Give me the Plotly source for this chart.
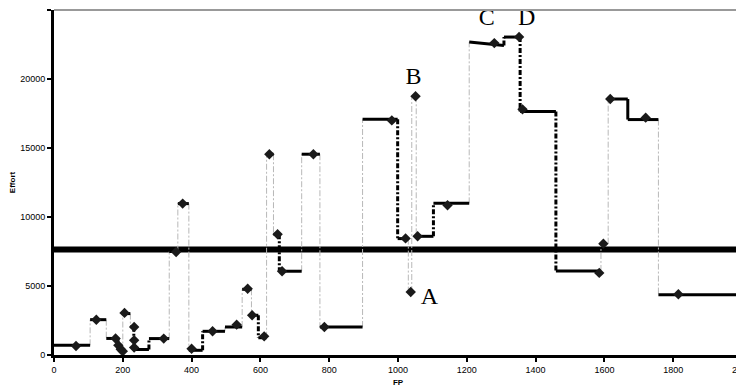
import plotly.graph_objects as go

# ---- data ----
point_fp = [64, 123, 179, 187, 194, 200, 205, 233, 233, 233, 319, 355, 374, 400, 461, 531,
            563, 576, 611, 626, 650, 663, 754, 786, 982, 1022, 1037, 1051, 1057, 1144, 1280,
            1352, 1362, 1585, 1597, 1617, 1720, 1815]
point_effort = [650, 2550, 1200, 700, 420, 270, 3050, 2030, 1065, 536, 1190, 7460, 10970, 450,
                1720, 2200, 4800, 2880, 1350, 14550, 8750, 6070, 14550, 2030, 17000, 8450, 4565,
                18746, 8600, 10850, 22600, 23050, 17800, 5950, 8070, 18550, 17200, 4400]

seg_start = [0, 105, 152, 186, 192, 199, 200, 222, 232, 276, 335, 360, 392, 432, 497, 547, 574,
             594, 618, 638, 655, 720, 773, 897, 999, 1037, 1051, 1057, 1103, 1207, 1308, 1355,
             1459, 1597, 1611, 1668, 1757]
seg_end = [105, 152, 186, 192, 199, 200, 222, 232, 276, 335, 360, 392, 432, 497, 547, 574, 594,
           618, 638, 655, 720, 773, 897, 999, 1025, 1037, 1051, 1103, 1207, 1308, 1355, 1459,
           1590, 1597, 1668, 1757, 2000]
seg_level_start = [700, 2560, 1200, 700, 420, 250, 3000, 2050, 400, 1190, 7500, 10970, 340, 1717,
                   2030, 4760, 2880, 1250, 14550, 8750, 6070, 14550, 2030, 17080, 8435, 4565,
                   18746, 8600, 10990, 22680, 23040, 17650, 6090, 8070, 18550, 17060, 4375]
seg_level_end = [700, 2560, 1200, 700, 420, 250, 3000, 2050, 400, 1190, 7500, 10970, 340, 1717,
                 2030, 4760, 2880, 1250, 14550, 8750, 6070, 14550, 2030, 17080, 8435, 4565,
                 18746, 8600, 10990, 22430, 23040, 17650, 6090, 8070, 18550, 17060, 4375]
# link between segment i and i+1: x position and kind
link_x = [105, 152, 186, 192, 199, 200, 222, 232, 276, 335, 360, 392, 432, 497, 547, 574, 594,
          618, 638, 655, 720, 773, 897, 999, 1030, 1040, 1053, 1103, 1207, 1308, 1355, 1459,
          1590, 1611, 1668, 1757]
link_kind = ["jump", "jump", "step", "step", "step", "jump", "jump", "step", "step", "jump",
             "jump", "jump", "step", "jump", "jump", "jump", "step", "jump", "jump", "step",
             "jump", "jump", "jump", "step", "jump", "jump", "jump", "step", "jump", "step",
             "step", "step", "jump", "jump", "solid", "jump"]

mean_effort = 7650
labels = ["A", "B", "C", "D"]
label_fp = [1091, 1045, 1258, 1374]
label_effort = [4100, 20100, 24350, 24350]

x_ticks = list(range(0, 2001, 200))
y_ticks = list(range(0, 25001, 5000))

# ---- build traces ----
fig = go.Figure()

# mean line
fig.add_trace(go.Scatter(x=[0, 2000], y=[mean_effort, mean_effort], mode="lines",
                         line=dict(color="black", width=6), hoverinfo="skip"))

link_styles = {
    "jump": dict(color="#b8b8b8", width=1, dash="6px,2px,2px,2px"),
    "step": dict(color="black", width=3, dash="5px,2px,2px,2px"),
    "solid": dict(color="black", width=3),
}
for kind, style in link_styles.items():
    xs, ys = [], []
    for i, k in enumerate(link_kind):
        if k != kind:
            continue
        xs += [link_x[i], link_x[i], None]
        ys += [seg_level_end[i], seg_level_start[i + 1], None]
    fig.add_trace(go.Scatter(x=xs, y=ys, mode="lines", line=style, hoverinfo="skip"))

sx, sy = [], []
for a, b, y0, y1 in zip(seg_start, seg_end, seg_level_start, seg_level_end):
    if b > a:
        sx += [a, b, None]
        sy += [y0, y1, None]
fig.add_trace(go.Scatter(x=sx, y=sy, mode="lines", line=dict(color="black", width=3),
                         hoverinfo="skip"))

fig.add_trace(go.Scatter(x=point_fp, y=point_effort, mode="markers",
                         marker=dict(symbol="diamond", size=8, color="#1a1a1a")))

fig.add_trace(go.Scatter(x=label_fp, y=label_effort, mode="text", text=labels,
                         cliponaxis=False,
                         textfont=dict(family="Liberation Serif", size=24, color="black")))

axis_font = dict(family="Liberation Sans", size=9, color="black")
title_font = dict(family="Liberation Sans", size=8, color="black")
# the page adds an 8px body margin, so the figure is sized to fit the 744x390 window
fig.update_layout(
    width=736, height=382,
    margin=dict(l=46, r=2, t=2, b=35),
    paper_bgcolor="white", plot_bgcolor="white",
    showlegend=False,
    xaxis=dict(range=[0, 2000], tickvals=x_ticks, ticktext=[str(v) for v in x_ticks],
               showgrid=False, zeroline=False, automargin=False, ticklabeloverflow="allow",
               showline=True, linecolor="black", linewidth=3, ticks="outside",
               ticklen=4, tickwidth=2, tickcolor="black", tickfont=axis_font,
               title=dict(text="<b>FP</b>", font=title_font, standoff=6)),
    yaxis=dict(range=[0, 25000], tickvals=y_ticks, ticktext=[str(v) for v in y_ticks],
               showgrid=False, zeroline=False, automargin=False,
               showline=True, linecolor="black", linewidth=3, ticks="outside",
               ticklen=4, tickwidth=2, tickcolor="black", tickfont=axis_font,
               title=dict(text="<b>Effort</b>", font=title_font, standoff=6)),
    shapes=[
        dict(type="line", xref="paper", yref="paper", x0=0, x1=1, y0=1, y1=1,
             line=dict(color="#999999", width=2)),
        dict(type="line", xref="paper", yref="paper", x0=1, x1=1, y0=0, y1=1,
             line=dict(color="#999999", width=2)),
    ],
)

fig.write_html("out.html")
